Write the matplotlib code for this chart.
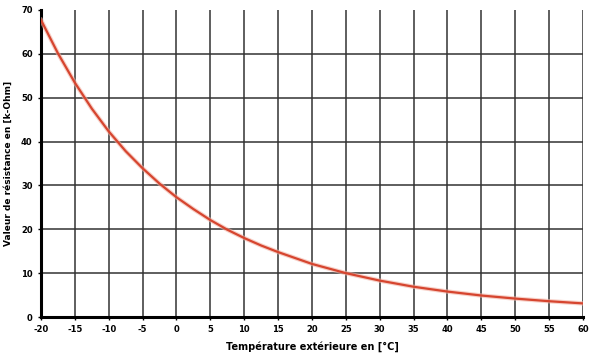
import matplotlib
matplotlib.use("Agg")
import matplotlib.pyplot as plt

temp = [-20, -17.5, -15, -12.5, -10, -7.5, -5, -2.5, 0, 2.5, 5, 7.5, 10,
        12.5, 15, 20, 25, 30, 35, 40, 45, 50, 55, 60]
resist = [67.7, 60.1, 53.4, 47.5, 42.3, 37.8, 33.9, 30.4, 27.3, 24.6, 22.1,
          19.9, 18.0, 16.3, 14.8, 12.1, 10.0, 8.3, 6.9, 5.8, 4.9, 4.2, 3.6, 3.1]
xticks = list(range(-20, 61, 5))
yticks = list(range(0, 71, 10))

fig = plt.figure(figsize=(5.9, 3.54), dpi=100)
ax = fig.add_axes([0.0695, 0.1045, 0.9185, 0.8675])

ax.plot(temp, resist, color="#f2b2a4", lw=3.2, alpha=0.6, zorder=3)
ax.plot(temp, resist, color="#d6452f", lw=1.6, zorder=4)

ax.set_xlim(-20, 60)
ax.set_ylim(0, 70)
ax.set_xticks(xticks)
ax.set_yticks(yticks)
ax.set_xticklabels([str(t) for t in xticks], fontsize=6, fontweight="bold")
ax.set_yticklabels([str(t) for t in yticks], fontsize=6, fontweight="bold")
ax.tick_params(length=2, width=1, pad=4)
ax.grid(True, color="#333333", lw=1.1)
ax.get_ygridlines()[-1].set_visible(False)
ax.set_axisbelow(True)
for s in ["top", "right"]:
    ax.spines[s].set_visible(False)
for s in ["left", "bottom"]:
    ax.spines[s].set_linewidth(2.2)

ax.set_xlabel("Température extérieure en [°C]", fontsize=7, fontweight="bold", labelpad=5)
ax.set_ylabel("Valeur de résistance en [k-Ohm]", fontsize=6.5, fontweight="bold", labelpad=6)

fig.savefig("out.png", dpi=100)
